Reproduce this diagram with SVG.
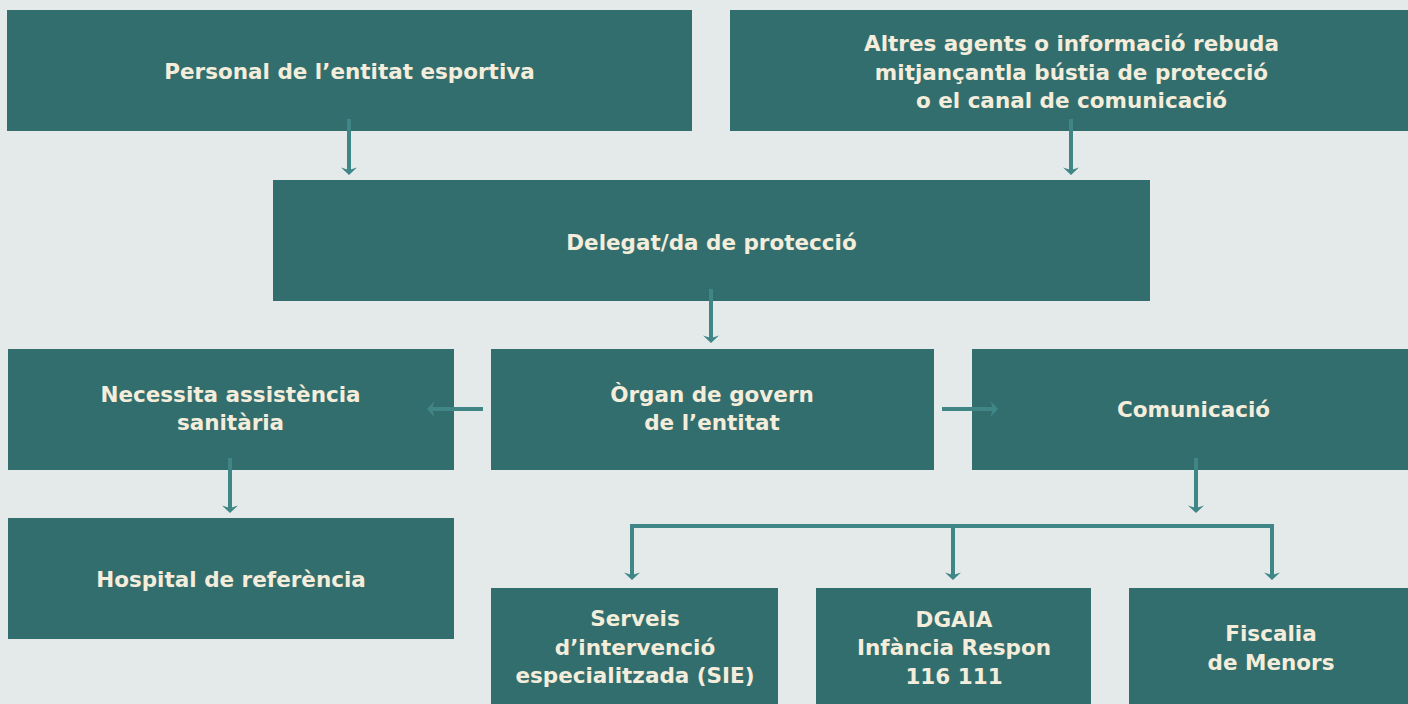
<svg xmlns="http://www.w3.org/2000/svg" width="1408" height="704" viewBox="0 0 1408 704">
<defs>
<style>
.box{fill:#336e6e}
.t{font-family:"DejaVu Sans","Liberation Sans",sans-serif;font-weight:700;font-size:21.5px;fill:#f4eddb;text-anchor:middle}
.c{stroke:#418686;stroke-width:4;fill:none}
</style>
<marker id="ah" viewBox="-1 -9 10 18" markerWidth="10" markerHeight="18" refX="3.5" refY="0" orient="auto" markerUnits="userSpaceOnUse">
<path d="M0,-8 L7.5,0 L0,8 L2.5,0 Z" fill="#418686"/>
</marker>
</defs>
<rect width="1408" height="704" fill="#e4eaea"/>
<g id="n-personal"><rect class="box" x="7" y="10" width="685" height="121"/><text class="t" x="349.5" y="79">Personal de l’entitat esportiva</text></g>
<g id="n-altres"><rect class="box" x="730" y="10" width="683" height="121"/><text class="t" x="1071.5" y="51">Altres agents o informació rebuda</text><text class="t" x="1071.5" y="80">mitjançantla bústia de protecció</text><text class="t" x="1071.5" y="108">o el canal de comunicació</text></g>
<g id="n-delegat"><rect class="box" x="273" y="180" width="877" height="121"/><text class="t" x="711.5" y="250">Delegat/da de protecció</text></g>
<g id="n-necessita"><rect class="box" x="8" y="349" width="446" height="121"/><text class="t" x="230.5" y="402">Necessita assistència</text><text class="t" x="230.5" y="430">sanitària</text></g>
<g id="n-organ"><rect class="box" x="491" y="349" width="443" height="121"/><text class="t" x="712" y="402">Òrgan de govern</text><text class="t" x="712" y="430">de l’entitat</text></g>
<g id="n-comunicacio"><rect class="box" x="972" y="349" width="441" height="121"/><text class="t" x="1193.5" y="417">Comunicació</text></g>
<g id="n-hospital"><rect class="box" x="8" y="518" width="446" height="121"/><text class="t" x="231" y="587">Hospital de referència</text></g>
<g id="n-sie"><rect class="box" x="491" y="588" width="287" height="116"/><text class="t" x="635" y="626">Serveis</text><text class="t" x="635" y="655">d’intervenció</text><text class="t" x="635" y="683">especialitzada (SIE)</text></g>
<g id="n-dgaia"><rect class="box" x="816" y="588" width="275" height="116"/><text class="t" x="954" y="627">DGAIA</text><text class="t" x="954" y="655">Infància Respon</text><text class="t" x="954" y="684">116 111</text></g>
<g id="n-fiscalia"><rect class="box" x="1129" y="588" width="284" height="116"/><text class="t" x="1271" y="641">Fiscalia</text><text class="t" x="1271" y="670">de Menors</text></g>
<g id="connectors">
<path class="c" d="M349,119 V171" marker-end="url(#ah)"/>
<path class="c" d="M1071,119 V171" marker-end="url(#ah)"/>
<path class="c" d="M711,289 V339" marker-end="url(#ah)"/>
<path class="c" d="M483,409 H431" marker-end="url(#ah)"/>
<path class="c" d="M942,409 H994" marker-end="url(#ah)"/>
<path class="c" d="M230,458 V509" marker-end="url(#ah)"/>
<path class="c" d="M1196,458 V509" marker-end="url(#ah)"/>
<path class="c" d="M630,526 H1274"/>
<path class="c" d="M632,524 V576" marker-end="url(#ah)"/>
<path class="c" d="M953,526 V576" marker-end="url(#ah)"/>
<path class="c" d="M1272,524 V576" marker-end="url(#ah)"/>
</g>
</svg>
